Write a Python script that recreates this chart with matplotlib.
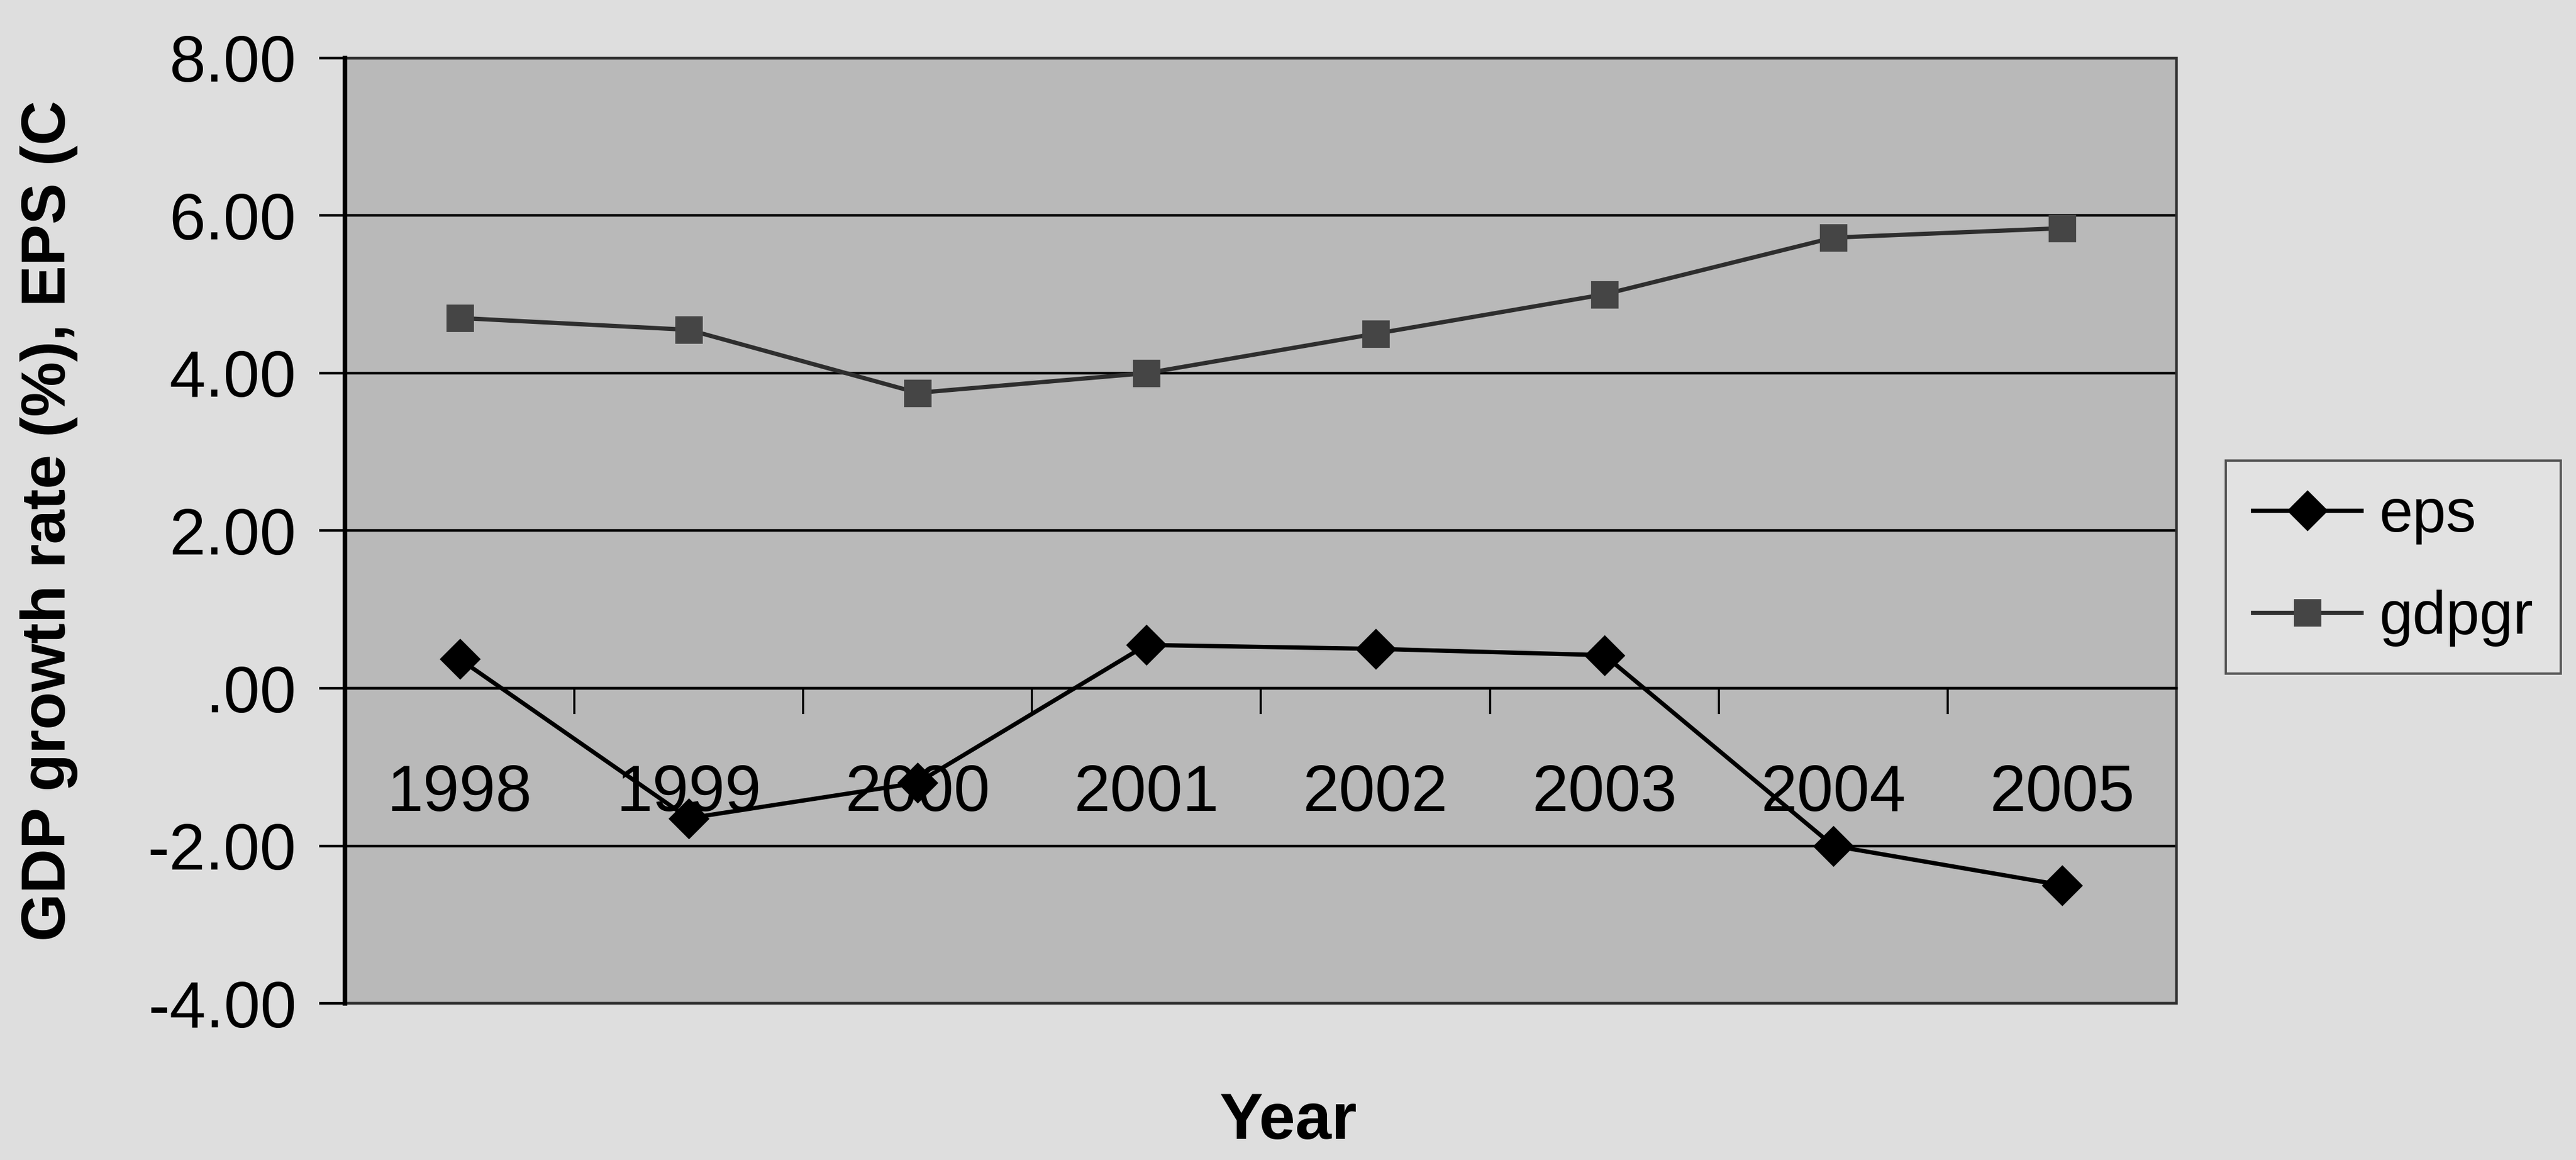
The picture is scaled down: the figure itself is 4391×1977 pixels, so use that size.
import matplotlib.pyplot as plt
from matplotlib.patches import Rectangle
from matplotlib.ticker import NullFormatter

years = ['1998', '1999', '2000', '2001', '2002', '2003', '2004', '2005']
eps = [0.37, -1.65, -1.2, 0.55, 0.5, 0.42, -2.0, -2.5]
gdpgr = [4.7, 4.55, 3.75, 4.0, 4.5, 5.0, 5.72, 5.84]
y_ticks = [-4, -2, 0, 2, 4, 6, 8]
y_tick_labels = ['-4.00', '-2.00', '.00', '2.00', '4.00', '6.00', '8.00']

plt.rcParams['font.family'] = ['Liberation Sans', 'DejaVu Sans']

fig = plt.figure(figsize=(21.955, 9.885), dpi=200, facecolor='#dedede')
ax = fig.add_axes([0.134, 0.135, 0.711, 0.815])
ax.set_facecolor('#b9b9b9')

x = list(range(len(years)))
ax.plot(x, eps, color='black', lw=2.6, marker='D', ms=17, label='eps', zorder=3)
ax.plot(x, gdpgr, color='#2e2e2e', lw=2.6, marker='s', ms=16,
        mfc='#454545', mec='#454545', label='gdpgr', zorder=3)

# eje de valores con rejilla negra
ax.set_ylim(-4, 8)
ax.set_yticks(y_ticks, y_tick_labels)
ax.grid(axis='y', color='black', lw=1.6)
ax.set_axisbelow(True)
ax.tick_params(axis='y', direction='out', length=16, width=1.6, pad=14,
               labelsize=40, colors='black')

# eje de categorias cruzando en cero, marcas entre categorias
ax.set_xlim(-0.5, len(years) - 0.5)
ax.set_xticks([i - 0.5 for i in range(len(years) + 1)])
ax.xaxis.set_major_formatter(NullFormatter())
ax.set_xticks(x, years, minor=True)
ax.tick_params(axis='x', which='major', direction='out', length=16, width=1.3)
ax.tick_params(axis='x', which='minor', length=0, pad=46, labelsize=40)

ax.spines['bottom'].set_position(('data', 0))
ax.spines['bottom'].set_linewidth(1.6)
ax.spines['left'].set_linewidth(2.8)
ax.spines['left'].set_color('black')
ax.spines['top'].set_visible(False)
ax.spines['right'].set_visible(False)
ax.add_patch(Rectangle((0, 0), 1, 1, transform=ax.transAxes, fill=False,
                       ec='#303030', lw=1.6, clip_on=False, zorder=1))

leg = ax.legend(loc='upper left', bbox_to_anchor=(0.864, 0.603),
                bbox_transform=fig.transFigure, borderaxespad=0,
                fontsize=37, frameon=True, fancybox=False,
                edgecolor='#555555', facecolor='#e2e2e2', framealpha=1,
                handlelength=1.8, handletextpad=0.3, labelspacing=0.75,
                borderpad=0.45)
leg.get_frame().set_linewidth(1.4)

fig.text(0.019, 0.551, 'GDP growth rate (%), EPS (C', rotation=90,
         ha='center', va='center', fontsize=38, fontweight='bold')
fig.text(0.50, 0.033, 'Year', ha='center', va='center', fontsize=40,
         fontweight='bold')

fig.savefig('out.png', dpi=200, facecolor=fig.get_facecolor())
